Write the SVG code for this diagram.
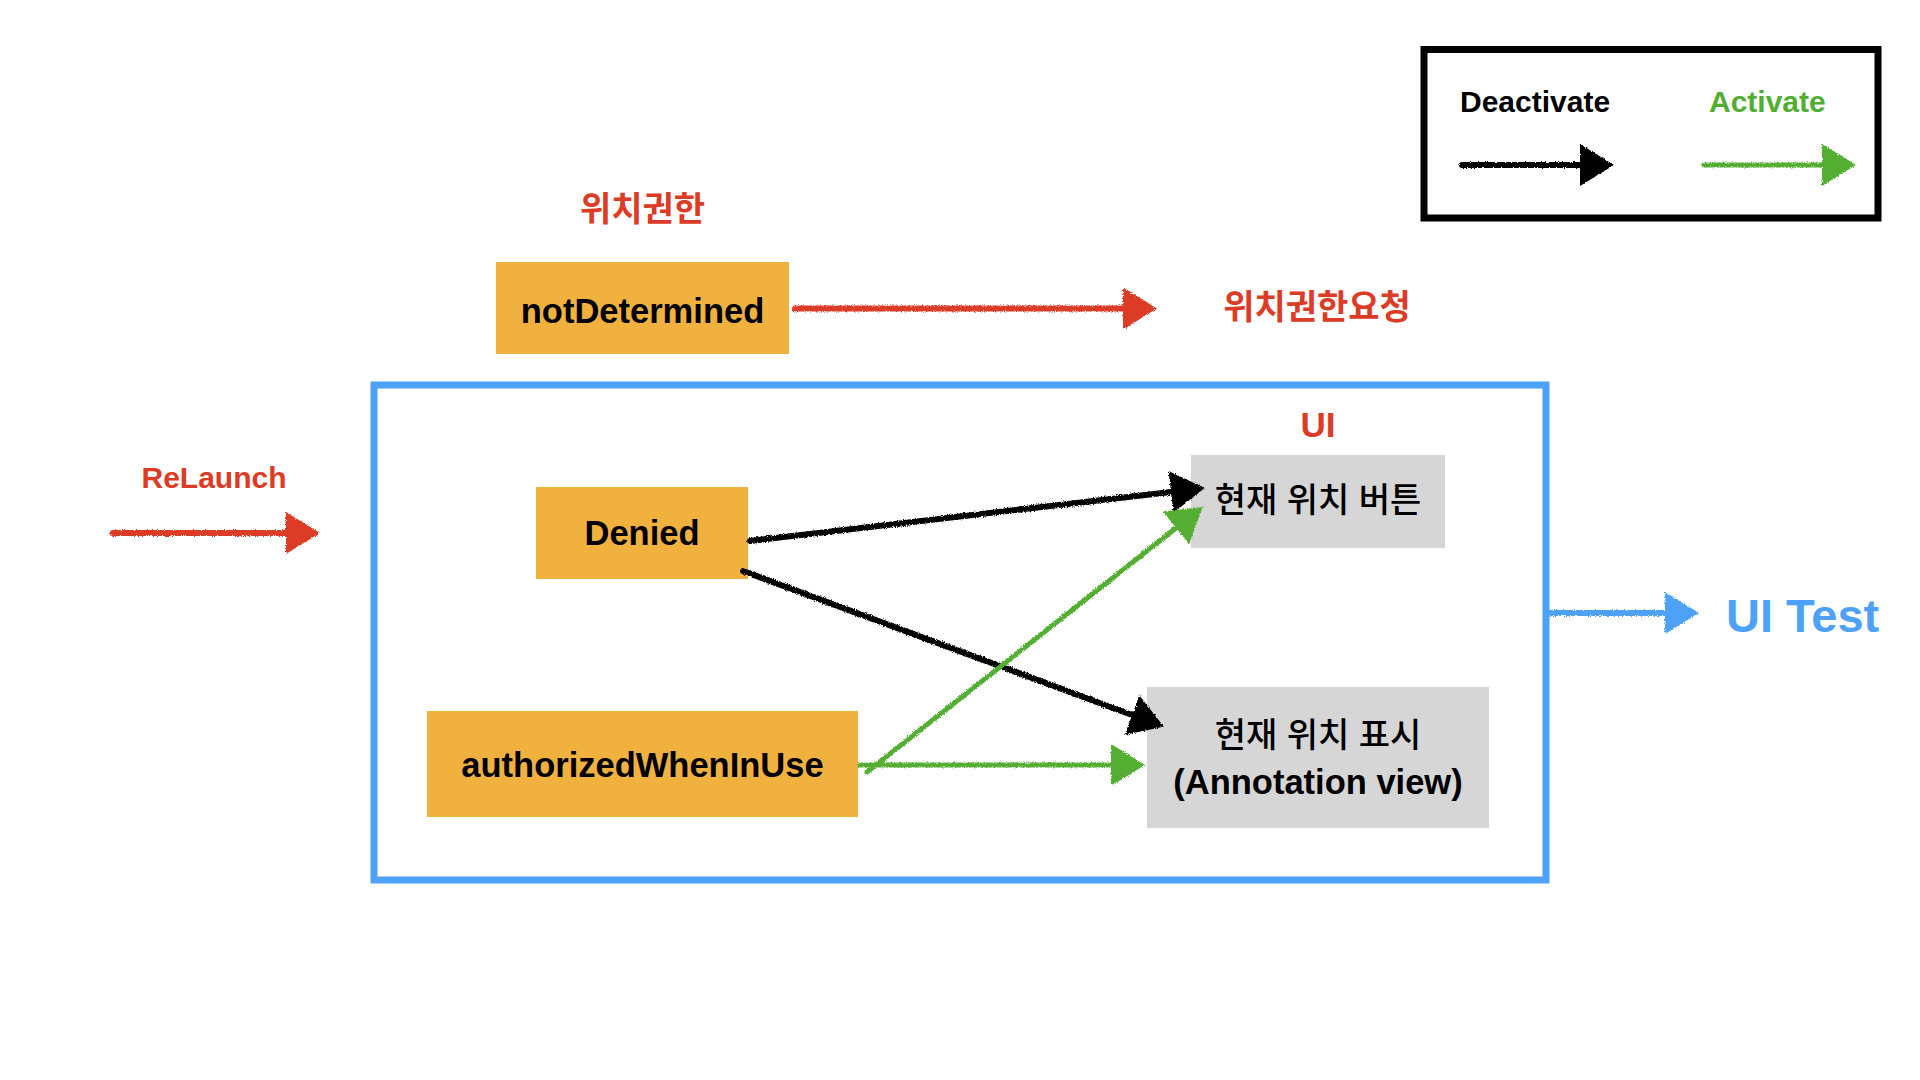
<svg xmlns="http://www.w3.org/2000/svg" width="1920" height="1080" viewBox="0 0 1920 1080">
<defs>
<style>
text{font-family:"Liberation Sans","Noto Sans CJK KR",sans-serif;}
.lbl{font-weight:700;text-anchor:middle;}
.node-text{font-size:34.5px;font-weight:700;text-anchor:middle;fill:#000;}
.ko{font-size:34px;font-weight:500;text-anchor:middle;fill:#000;}
.red{fill:#DC3B26;}
.state{fill:#F1B13E;}
.ui{fill:#D6D6D6;}
.ln{fill:none;stroke-width:6;stroke-linecap:round;}
.k{stroke:#000;}
.g{stroke:#52AE32;stroke-width:5;}
.r{stroke:#DC3B26;}
.b{stroke:#4DA1F7;}
</style>
<filter id="rough" filterUnits="userSpaceOnUse" x="0" y="0" width="1920" height="1080">
<feTurbulence type="fractalNoise" baseFrequency="1.1" numOctaves="2" seed="4" result="n"/>
<feDisplacementMap in="SourceGraphic" in2="n" scale="3.5" xChannelSelector="R" yChannelSelector="G"/>
</filter>
<marker id="ah-k" markerUnits="userSpaceOnUse" viewBox="0 0 34 42" refX="0" refY="21" markerWidth="34" markerHeight="42" orient="auto"><path d="M0,0 L34,21 L0,42 Z" fill="#000"/></marker>
<marker id="ah-g" markerUnits="userSpaceOnUse" viewBox="0 0 34 42" refX="0" refY="21" markerWidth="34" markerHeight="42" orient="auto"><path d="M0,0 L34,21 L0,42 Z" fill="#52AE32"/></marker>
<marker id="ah-r" markerUnits="userSpaceOnUse" viewBox="0 0 34 42" refX="0" refY="21" markerWidth="34" markerHeight="42" orient="auto"><path d="M0,0 L34,21 L0,42 Z" fill="#DC3B26"/></marker>
<marker id="ah-b" markerUnits="userSpaceOnUse" viewBox="0 0 34 42" refX="0" refY="21" markerWidth="34" markerHeight="42" orient="auto"><path d="M0,0 L34,21 L0,42 Z" fill="#4DA1F7"/></marker>
</defs>
<rect width="1920" height="1080" fill="#fff"/>

<g id="legend">
<rect x="1424" y="49.5" width="454" height="168.5" fill="#fff" stroke="#000" stroke-width="7"/>
<text x="1460" y="112" font-size="30" font-weight="700" fill="#000">Deactivate</text>
<text x="1709" y="112" font-size="30" font-weight="700" fill="#52AE32">Activate</text>
</g>

<g id="ui-container">
<rect x="374" y="385" width="1172" height="495" fill="none" stroke="#4DA1F7" stroke-width="7"/>
<text class="lbl red" x="1318" y="437" font-size="35">UI</text>
</g>

<g id="label-permission">
<text class="lbl red" x="642.5" y="221" font-size="34">위치권한</text>
</g>
<g id="label-request">
<text class="lbl red" x="1317" y="318.5" font-size="34">위치권한요청</text>
</g>
<g id="label-relaunch">
<text class="lbl red" x="214" y="488" font-size="30">ReLaunch</text>
</g>
<g id="label-uitest">
<text x="1726" y="632" font-size="47" font-weight="700" fill="#4DA1F7">UI Test</text>
</g>

<g id="node-notDetermined">
<rect class="state" x="496" y="262" width="293" height="92"/>
<text class="node-text" x="642.5" y="322.5">notDetermined</text>
</g>
<g id="node-denied">
<rect class="state" x="536" y="487" width="212" height="92"/>
<text class="node-text" x="642" y="545">Denied</text>
</g>
<g id="node-authorized">
<rect class="state" x="427" y="711" width="431" height="106"/>
<text class="node-text" x="642.5" y="777">authorizedWhenInUse</text>
</g>
<g id="node-button">
<rect class="ui" x="1191" y="455" width="254" height="93"/>
<text class="ko" x="1318" y="512">현재 위치 버튼</text>
</g>
<g id="node-display">
<rect class="ui" x="1147" y="687" width="342" height="141"/>
<text class="ko" x="1318" y="747">현재 위치 표시</text>
<text class="node-text" x="1318" y="794">(Annotation view)</text>
</g>

<g id="connectors" filter="url(#rough)">
<line class="ln k" x1="1462" y1="165" x2="1580" y2="165" marker-end="url(#ah-k)"/>
<line class="ln g" x1="1704" y1="165" x2="1822" y2="165" marker-end="url(#ah-g)"/>
<line class="ln r" x1="795" y1="308.5" x2="1123" y2="308.5" marker-end="url(#ah-r)"/>
<line class="ln r" x1="113" y1="533" x2="286" y2="533" marker-end="url(#ah-r)"/>
<line class="ln b" x1="1550" y1="613" x2="1665" y2="613" marker-end="url(#ah-b)"/>
<line class="ln k" x1="750" y1="541" x2="1171" y2="492" marker-end="url(#ah-k)"/>
<line class="ln k" x1="743" y1="571" x2="1132" y2="715" marker-end="url(#ah-k)"/>
<line class="ln g" x1="867" y1="772" x2="1176" y2="528" marker-end="url(#ah-g)"/>
<line class="ln g" x1="860" y1="765" x2="1111" y2="765" marker-end="url(#ah-g)"/>
</g>
</svg>
